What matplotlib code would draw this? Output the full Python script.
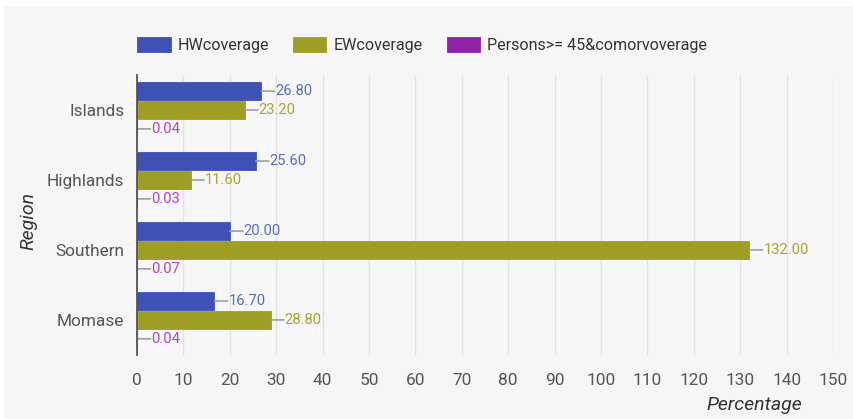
import matplotlib.pyplot as plt
from matplotlib.patches import Rectangle
import numpy as np

regions = ['Islands', 'Highlands', 'Southern', 'Momase']
hw = [26.80, 25.60, 20.00, 16.70]
ew = [23.20, 11.60, 132.00, 28.80]
persons = [0.04, 0.03, 0.07, 0.04]
series_names = ['HWcoverage', 'EWcoverage', 'Persons>= 45&comorvoverage']
xticks = list(range(0, 151, 10))

bar_colors = ['#3f51b5', '#9e9d24', '#8e24aa']
text_colors = ['#5c6bc0', '#a8a62c', '#ab47bc']
bg = '#f6f6f6'

plt.rcParams['font.family'] = ['Roboto', 'DejaVu Sans']

fig = plt.figure(figsize=(8.54, 4.19), dpi=100, facecolor='white')
# grey panel with thin white margin at left/top
fig.patches.append(Rectangle((4 / 854, 0), 1, 1 - 6 / 419, transform=fig.transFigure,
                             facecolor=bg, edgecolor='none', zorder=-1))
ax = fig.add_axes([0.1604, 0.153, 0.815, 0.668])
ax.set_facecolor(bg)

y = np.arange(len(regions))
h = 0.25
offs = [-0.27, 0.0, 0.27]
for vals, off, c, tc, name in zip([hw, ew, persons], offs, bar_colors, text_colors, series_names):
    ax.barh(y + off, vals, height=h, color=c, edgecolor=c, linewidth=0.6, label=name, zorder=3)
    for yi, v in zip(y, vals):
        # leader line then value label
        ax.annotate('', xy=(v, yi + off), xytext=(9.5, 0), textcoords='offset points',
                    arrowprops=dict(arrowstyle='-', color='#9e9e9e', lw=1.2,
                                    shrinkA=0, shrinkB=0), zorder=4)
        ax.annotate('%.2f' % v, xy=(v, yi + off), xytext=(10, 0), textcoords='offset points',
                    ha='left', va='center', color=tc, fontsize=10.6, zorder=4)

ax.set_xlim(0, 150)
ax.set_ylim(3.5, -0.5)
ax.set_yticks(y)
ax.set_yticklabels(regions)
ax.set_xticks(xticks)
ax.tick_params(axis='both', length=0, labelsize=12.4, labelcolor='#555555')
ax.tick_params(axis='x', pad=13)
ax.tick_params(axis='y', pad=9)
ax.grid(axis='x', color='#e2e2e2', lw=1, zorder=0)
for s in ['top', 'right', 'bottom']:
    ax.spines[s].set_visible(False)
ax.spines['left'].set_color('#555555')
ax.spines['left'].set_linewidth(1.3)
ax.spines['left'].set_zorder(5)

ax.set_ylabel('Region', style='italic', fontsize=14, color='#333333')
ax.yaxis.set_label_coords(-0.143, 0.48)
ax.set_xlabel('Percentage', style='italic', fontsize=14, color='#333333', ha='right')
ax.xaxis.set_label_coords(0.956, -0.18)
ax.xaxis.label.set_verticalalignment('center')

leg = fig.legend(loc='center left', bbox_to_anchor=(0.161, 1 - 45 / 419), ncol=3, frameon=False,
                 fontsize=11.6, handlelength=2.05, handleheight=1.0, columnspacing=1.5,
                 handletextpad=0.45, labelcolor='#333333', borderaxespad=0, borderpad=0)

fig.savefig('out.png', dpi=100, facecolor='white')
